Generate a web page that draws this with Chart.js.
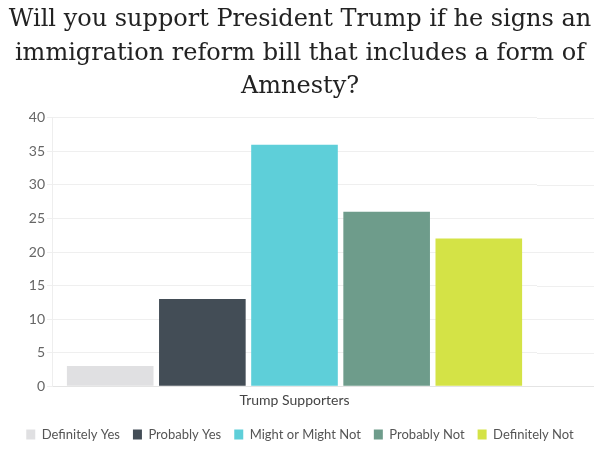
<!DOCTYPE html>
<html>
<head>
<meta charset="utf-8">
<script src="https://cdn.jsdelivr.net/npm/chart.js@4/dist/chart.umd.min.js"></script>
<style>
  html, body { margin: 0; padding: 0; background: #fff; }
  #wrap { width: 600px; height: 459px; }
</style>
</head>
<body>
<div id="wrap"><canvas id="chart"></canvas></div>
<script>
// --- data ---
const categories = ['Trump Supporters'];
const answers = ['Definitely Yes', 'Probably Yes', 'Might or Might Not', 'Probably Not', 'Definitely Not'];
const values = [3, 13, 36, 26, 22];
const colors = ['#e0e0e2', '#434d56', '#5ecfd9', '#6e9c8b', '#d4e346'];
const yTicks = [0, 5, 10, 15, 20, 25, 30, 35, 40];
const titleLines = [
    'Will you support President Trump if he signs an',
    'immigration reform bill that includes a form of',
    'Amnesty?'
];

const GRID = '#efefef';

// horizontal grid lines run on past the plot to the canvas edge
const extendGrid = {
    id: 'extendGrid',
    beforeDatasetsDraw: (chart) => {
        const y = chart.scales.y;
        const { right } = chart.chartArea;
        const ctx = chart.ctx;
        ctx.save();
        ctx.lineWidth = 1;
        y.ticks.forEach(t => {
            const py = Math.round(y.getPixelForValue(t.value)) + 0.5;
            ctx.strokeStyle = t.value === 0 ? '#e4e4e4' : GRID;
            ctx.beginPath();
            ctx.moveTo(right, py); ctx.lineTo(chart.width - 6, py);
            ctx.stroke();
        });
        ctx.restore();
    }
};

new Chart(document.getElementById('chart'), {
    type: 'bar',
    data: {
        labels: categories,
        datasets: answers.map((a, i) => ({
            label: a,
            data: [values[i]],
            backgroundColor: colors[i],
            borderWidth: 0,
            categoryPercentage: 0.95,
            barPercentage: 0.94,
        }))
    },
    options: {
        responsive: true,
        maintainAspectRatio: false,
        animation: false,
        layout: { padding: { left: 0, right: 0, top: 0, bottom: 8 } },
        plugins: {
            title: {
                display: true,
                text: titleLines,
                color: '#222',
                font: { family: '"DejaVu Serif", serif', size: 24, weight: 'normal', lineHeight: 1.4 },
                padding: { top: 3, bottom: 14 }
            },
            legend: {
                position: 'bottom',
                labels: {
                    color: '#555',
                    font: { family: 'Lato, sans-serif', size: 13 },
                    boxWidth: 9,
                    boxHeight: 10,
                    padding: 13,
                }
            },
            tooltip: { enabled: false }
        },
        scales: {
            x: {
                grid: { display: false, drawTicks: false },
                border: { color: '#e4e4e4' },
                ticks: { color: '#444', font: { family: 'Lato, sans-serif', size: 14 }, padding: 6 }
            },
            y: {
                min: 0, max: 40,
                afterBuildTicks: (s) => { s.ticks = yTicks.map(v => ({ value: v })); },
                afterFit: (s) => { s.width = 52; },
                grid: { color: GRID, drawTicks: true, tickLength: 5 },
                border: { color: '#eeeeee' },
                ticks: { color: '#666', font: { family: 'Lato, sans-serif', size: 14 }, padding: 2 }
            },
            // empty right-hand axis, only to keep the bars off the right edge
            yPad: {
                position: 'right',
                display: true,
                grid: { display: false },
                border: { display: false },
                ticks: { display: false },
                afterFit: (s) => { s.width = 63; }
            }
        }
    },
    plugins: [extendGrid]
});
</script>
</body>
</html>
